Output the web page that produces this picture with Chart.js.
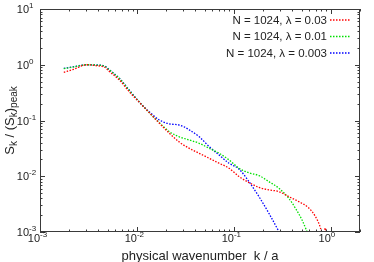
<!DOCTYPE html>
<html>
<head>
<meta charset="utf-8">
<script src="https://cdn.jsdelivr.net/npm/chart.js@4/dist/chart.umd.min.js"></script>
<style>
  html, body { margin: 0; padding: 0; background: #fff; }
  canvas { display: block; }
</style>
</head>
<body>
<canvas id="spectrum" width="374" height="262"></canvas>
<script>
"use strict";

// labels
var seriesLabels = ["N = 1024, \u03bb = 0.03", "N = 1024, \u03bb = 0.01", "N = 1024, \u03bb = 0.003"];
var seriesColors = ["#ff0000", "#00e000", "#0000ff"];

// physical wavenumber k / a  and  S_k / (S_k)_peak
var kRed = [0.00176, 0.00223, 0.00304, 0.00385, 0.00465, 0.00523, 0.00663, 0.0084, 0.01064, 0.01346,
  0.01706, 0.02161, 0.02737, 0.03467, 0.04392, 0.05563, 0.07047, 0.08927, 0.1131, 0.1432,
  0.1815, 0.2299, 0.2912, 0.3689, 0.4673, 0.5919, 0.693, 0.78, 0.805, 0.834, 0.878, 0.906];
var sRed = [0.733, 0.83, 1.0, 0.96, 0.9, 0.75, 0.527, 0.322, 0.21, 0.137,
  0.089, 0.059, 0.041, 0.0317, 0.0258, 0.021, 0.0171, 0.0139, 0.0099, 0.0077,
  0.0063, 0.0057, 0.0053, 0.0043, 0.0035, 0.0027, 0.0019, 0.0012, 0.00095, 0.0007, 0.00118, 0.0007];

var kGreen = [0.00176, 0.00223, 0.00304, 0.00385, 0.00465, 0.00523, 0.00663, 0.0084, 0.01064, 0.01346,
  0.01706, 0.02161, 0.02737, 0.03467, 0.04392, 0.05563, 0.07047, 0.08927, 0.1131, 0.1432,
  0.1815, 0.2299, 0.2912, 0.3689, 0.432, 0.505, 0.592];
var sGreen = [0.85, 0.915, 1.0, 0.985, 0.94, 0.8, 0.56, 0.34, 0.212, 0.137,
  0.091, 0.063, 0.051, 0.0447, 0.039, 0.0317, 0.0258, 0.0196, 0.0139, 0.0115,
  0.0103, 0.008, 0.0061, 0.004, 0.00266, 0.00164, 0.00085];

var kBlue = [0.00176, 0.00223, 0.00304, 0.00385, 0.00465, 0.00523, 0.00663, 0.0084, 0.01064, 0.01346,
  0.01706, 0.02161, 0.02737, 0.03467, 0.04392, 0.05563, 0.07047, 0.08927, 0.1131, 0.1432,
  0.1815, 0.2299, 0.2912, 0.31];
var sBlue = [0.863, 0.923, 1.0, 0.99, 0.95, 0.805, 0.565, 0.345, 0.212, 0.142,
  0.102, 0.087, 0.083, 0.068, 0.051, 0.034, 0.024, 0.0171, 0.0134, 0.008,
  0.0043, 0.00216, 0.00101, 0.0008];

var xTickExps = [-3, -2, -1, 0];
var yTickExps = [-3, -2, -1, 0, 1];

function toPoints(ks, ss) {
  return ks.map(function(k, i) { return { x: k, y: ss[i] }; });
}

var FONT = "'Liberation Sans', Arial, Helvetica, sans-serif";
var FRAME = "#3a3a3a";

function drawPow(ctx, x, y, exp) {
  // "10" with a raised exponent; x is where base ends / exponent starts
  ctx.textBaseline = "alphabetic";
  ctx.font = "11px " + FONT;
  ctx.textAlign = "right";
  ctx.fillText("10", x, y);
  ctx.font = "8px " + FONT;
  ctx.textAlign = "left";
  ctx.fillText(String(exp), x, y - 5);
}

var gnuplotFrame = {
  id: "gnuplotFrame",
  afterDatasetsDraw: function(chart) {
    var ctx = chart.ctx;
    var area = chart.chartArea;
    var xs = chart.scales.x;
    var ys = chart.scales.y;
    ctx.save();

    // frame
    ctx.strokeStyle = FRAME;
    ctx.lineWidth = 1;
    ctx.strokeRect(Math.round(area.left) + 0.5, Math.round(area.top) + 0.5,
      Math.round(area.right - area.left) - 1, Math.round(area.bottom - area.top) - 1);

    // inward ticks, mirrored
    ctx.beginPath();
    var e, m, v, p, len;
    for (e = -3; e <= 0; e++) {
      for (m = 1; m <= 9; m++) {
        v = m * Math.pow(10, e);
        if (v < xs.min || v > xs.max) continue;
        p = Math.round(xs.getPixelForValue(v)) + 0.5;
        len = m === 1 ? 5 : 2.5;
        ctx.moveTo(p, area.bottom);
        ctx.lineTo(p, area.bottom - len);
        ctx.moveTo(p, area.top);
        ctx.lineTo(p, area.top + len);
      }
    }
    for (e = -3; e <= 1; e++) {
      for (m = 1; m <= 9; m++) {
        v = m * Math.pow(10, e);
        if (v < ys.min || v > ys.max) continue;
        p = Math.round(ys.getPixelForValue(v)) + 0.5;
        len = m === 1 ? 5 : 2.5;
        ctx.moveTo(area.left, p);
        ctx.lineTo(area.left + len, p);
        ctx.moveTo(area.right, p);
        ctx.lineTo(area.right - len, p);
      }
    }
    ctx.stroke();

    // tick labels
    ctx.fillStyle = "#222";
    xTickExps.forEach(function(ex) {
      drawPow(ctx, xs.getPixelForValue(Math.pow(10, ex)), area.bottom + 9.5, ex);
    });
    yTickExps.forEach(function(ex) {
      drawPow(ctx, 29, ys.getPixelForValue(Math.pow(10, ex)) + 4, ex);
    });

    // x title
    ctx.font = "13px " + FONT;
    ctx.textAlign = "center";
    ctx.textBaseline = "alphabetic";
    ctx.fillText("physical wavenumber  k / a", (area.left + area.right) / 2, 260);

    // y title: S_k / (S_k)_peak, rotated
    ctx.save();
    ctx.translate(14, (area.top + area.bottom) / 2);
    ctx.rotate(-Math.PI / 2);
    var parts = [
      { t: "S", sub: false }, { t: "k", sub: true }, { t: " / (S", sub: false },
      { t: "k", sub: true }, { t: ")", sub: false }, { t: "peak", sub: true }
    ];
    var total = 0;
    parts.forEach(function(pt) {
      ctx.font = (pt.sub ? "10px " : "13px ") + FONT;
      pt.w = ctx.measureText(pt.t).width;
      total += pt.w;
    });
    var cx = -total / 2;
    ctx.textAlign = "left";
    parts.forEach(function(pt) {
      ctx.font = (pt.sub ? "10px " : "13px ") + FONT;
      ctx.fillText(pt.t, cx, pt.sub ? 3 : 0);
      cx += pt.w;
    });
    ctx.restore();

    // legend, gnuplot style: text right aligned, sample line at right
    ctx.font = "11.5px " + FONT;
    ctx.textAlign = "right";
    ctx.textBaseline = "middle";
    chart.data.datasets.forEach(function(ds, i) {
      var ly = 20 + i * 16.5;
      ctx.fillStyle = "#222";
      ctx.fillText(ds.label, 327, ly + 0.5);
      ctx.strokeStyle = ds.borderColor;
      ctx.lineWidth = ds.borderWidth;
      ctx.setLineDash(ds.borderDash);
      ctx.beginPath();
      ctx.moveTo(330, ly);
      ctx.lineTo(351, ly);
      ctx.stroke();
    });
    ctx.setLineDash([]);
    ctx.restore();
  }
};

function makeSet(i, ks, ss) {
  return {
    label: seriesLabels[i],
    data: toPoints(ks, ss),
    showLine: true,
    borderColor: seriesColors[i],
    borderWidth: 1.3,
    borderDash: [1.5, 1.5],
    pointRadius: 0,
    cubicInterpolationMode: "monotone",
    clip: 0
  };
}

new Chart(document.getElementById("spectrum"), {
  type: "scatter",
  data: {
    datasets: [
      makeSet(0, kRed, sRed),
      makeSet(1, kGreen, sGreen),
      makeSet(2, kBlue, sBlue)
    ]
  },
  options: {
    responsive: false,
    animation: false,
    devicePixelRatio: 1,
    layout: { padding: { left: 0, right: 14, top: 9, bottom: 0 } },
    plugins: { legend: { display: false }, tooltip: { enabled: false } },
    scales: {
      x: {
        type: "logarithmic",
        min: 0.001,
        max: 2,
        ticks: { display: false },
        grid: { display: false },
        border: { display: false },
        afterFit: function(s) { s.height = 30; }
      },
      y: {
        type: "logarithmic",
        min: 0.001,
        max: 10,
        ticks: { display: false },
        grid: { display: false },
        border: { display: false },
        afterFit: function(s) { s.width = 40; }
      }
    }
  },
  plugins: [gnuplotFrame]
});
</script>
</body>
</html>
